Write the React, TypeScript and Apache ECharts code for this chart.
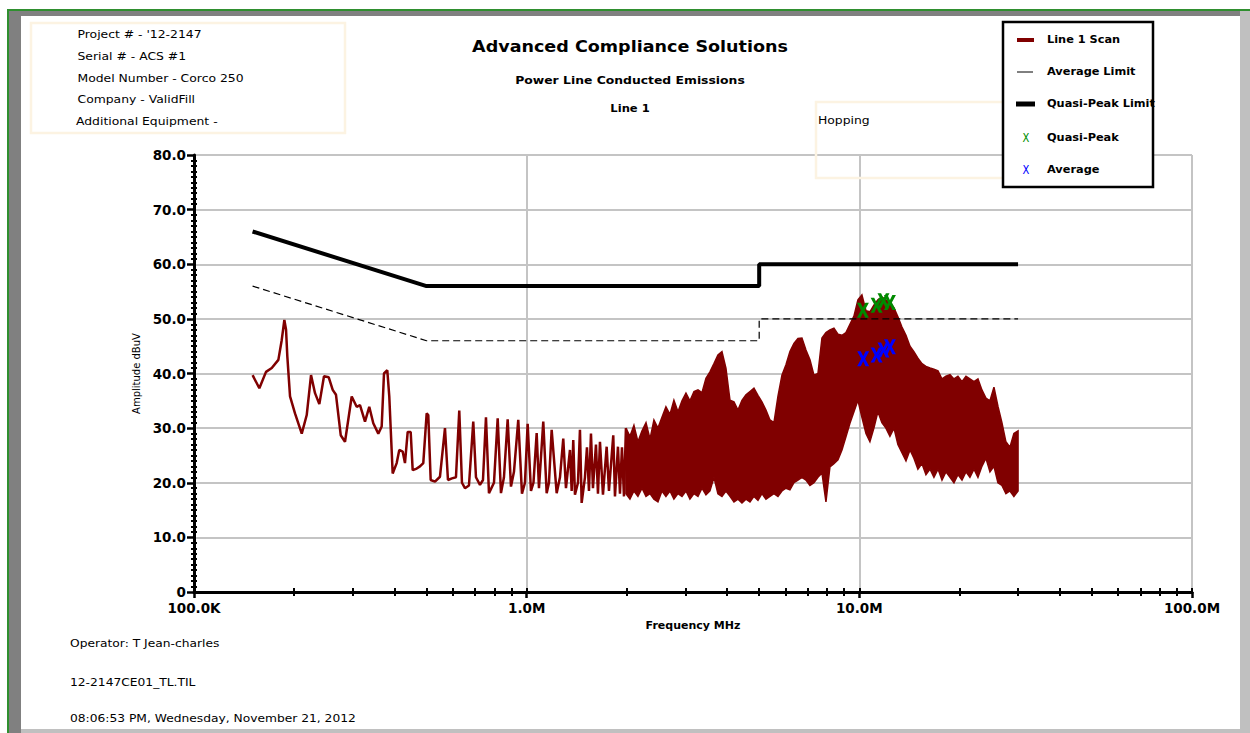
import React, { useEffect, useRef } from "react";
import * as echarts from "echarts";

// ---------------- data ----------------
const qpLimitFreq = [0.15, 0.5, 5, 5, 30];
const qpLimitLevel = [66, 56, 56, 60, 60];
const avgLimitFreq = [0.15, 0.5, 5, 5, 30];
const avgLimitLevel = [56, 46, 46, 50, 50];

// Line 1 scan, resolved part (0.15 - 2 MHz), MHz / dBuV
const scanFreq = [
  0.15, 0.1572, 0.1646, 0.1713, 0.1793, 0.1835, 0.1869, 0.1891, 0.1908, 0.1944,
  0.2012, 0.2108, 0.2182, 0.2248, 0.2311, 0.2381, 0.2459, 0.2541, 0.2612, 0.2672,
  0.2761, 0.2844, 0.2979, 0.3083, 0.3155, 0.3266, 0.3364, 0.3459, 0.3581, 0.3666,
  0.3725, 0.3811, 0.3864, 0.3956, 0.4067, 0.4141, 0.4239, 0.4307, 0.4389, 0.4481,
  0.4543, 0.4671, 0.4778, 0.4889, 0.5005, 0.5061, 0.5146, 0.5301, 0.5488, 0.5681,
  0.58, 0.5963, 0.613, 0.6272, 0.639, 0.6524, 0.6707, 0.691, 0.7041, 0.7238,
  0.739, 0.7545, 0.7704, 0.7975, 0.8182, 0.8371, 0.8546, 0.8768, 0.8971, 0.9159,
  0.9435, 0.968, 0.9883, 1.0069, 1.0302, 1.0482, 1.0717, 1.0889, 1.1218, 1.1485,
  1.1669, 1.1889, 1.2308, 1.2593, 1.2883, 1.3126, 1.3494, 1.3654, 1.3806, 1.3969,
  1.4262, 1.4461, 1.4632, 1.497, 1.5179, 1.5391, 1.5606, 1.5823, 1.6155, 1.638,
  1.6609, 1.6957, 1.7397, 1.7676, 1.821, 1.8426, 1.8812, 1.9074, 1.934, 1.961, 1.988,
];
const scanLevel = [
  39.7, 37.3, 40.3, 41.0, 42.5, 46.1, 49.8, 48.0, 43.1, 35.8,
  32.7, 29.0, 32.4, 39.7, 36.4, 34.4, 39.5, 39.3, 37.0, 36.1,
  28.7, 27.5, 35.8, 33.9, 34.2, 31.2, 33.9, 30.9, 29.0, 30.3,
  40.0, 40.6, 35.8, 21.7, 23.6, 26.0, 25.7, 23.6, 29.3, 29.3,
  22.3, 22.6, 23.0, 23.6, 32.7, 32.4, 20.5, 20.2, 21.1, 30.0,
  20.5, 20.8, 21.0, 33.2, 20.0, 19.0, 19.5, 31.2, 21.0, 19.6,
  20.5, 32.0, 18.1, 20.0, 31.8, 18.1, 21.0, 31.6, 19.3, 22.0,
  31.5, 18.0, 20.0, 30.8, 18.5, 20.0, 29.1, 19.0, 31.2, 18.1,
  20.0, 29.7, 18.1, 21.0, 28.1, 19.0, 26.0, 18.5, 27.8, 17.8,
  20.0, 29.7, 16.3, 21.0, 26.5, 18.5, 29.0, 19.0, 27.0, 18.0,
  27.5, 17.8, 26.6, 18.5, 28.7, 17.5, 26.6, 18.0, 26.5, 17.5, 30.0,
];

// Line 1 scan, dense part (2 - 30 MHz): upper and lower envelope of the trace
const bandFreq = [
  1.988, 2.044, 2.101, 2.16, 2.222, 2.284, 2.348, 2.413, 2.481, 2.551,
  2.622, 2.696, 2.771, 2.85, 2.93, 3.012, 3.096, 3.184, 3.273, 3.365,
  3.459, 3.556, 3.656, 3.758, 3.864, 3.972, 4.085, 4.199, 4.317, 4.438,
  4.563, 4.691, 4.822, 4.958, 5.096, 5.24, 5.387, 5.538, 5.693, 5.853,
  6.018, 6.186, 6.36, 6.539, 6.722, 6.911, 7.105, 7.304, 7.509, 7.72,
  7.937, 8.159, 8.388, 8.625, 8.867, 9.115, 9.37, 9.634, 9.904, 10.18,
  10.47, 10.76, 11.06, 11.37, 11.69, 12.02, 12.36, 12.71, 13.06, 13.43,
  13.81, 14.2, 14.59, 15.0, 15.43, 15.86, 16.31, 16.76, 17.24, 17.72,
  18.21, 18.73, 19.25, 19.79, 20.35, 20.92, 21.5, 22.11, 22.73, 23.36,
  24.02, 24.7, 25.39, 26.1, 26.83, 27.58, 28.36, 29.15, 30.0,
];
const bandUpper = [
  30.0, 28.5, 30.5, 27.5, 29.5, 31.0, 28.0, 31.5, 30.0, 32.0,
  33.9, 32.5, 35.1, 33.0, 35.0, 36.4, 35.0, 36.7, 37.0, 36.5,
  39.1, 40.3, 41.8, 43.4, 44.0, 41.0, 35.1, 34.8, 33.3, 35.1,
  36.1, 36.7, 37.3, 36.0, 34.8, 33.3, 31.5, 31.0, 35.8, 39.7,
  41.6, 44.0, 45.5, 46.4, 46.5, 44.3, 42.5, 39.7, 40.0, 46.5,
  47.5, 48.0, 48.3, 47.2, 47.0, 47.5, 49.0, 50.5, 53.5, 54.4,
  51.5, 51.3, 52.5, 53.5, 54.0, 53.5, 53.0, 52.0, 50.4, 48.5,
  47.0, 45.0, 44.0, 42.8, 41.8, 41.3, 41.0, 40.8, 40.5, 39.0,
  39.5, 39.8, 39.0, 39.5, 38.5, 39.5, 39.0, 38.5, 39.0, 37.0,
  35.5, 35.0, 37.5, 34.0, 31.0, 27.5, 26.5, 29.0, 29.5,
];
const bandLower = [
  18.0, 17.0, 18.5, 17.5, 19.0, 17.5, 18.0, 17.0, 16.5, 18.5,
  17.5, 18.5, 17.0, 18.0, 17.5, 18.5, 17.0, 18.0, 17.5, 19.0,
  17.8, 18.5, 21.0, 18.0, 17.5, 18.5, 17.5, 16.5, 17.0, 16.3,
  17.0, 16.5, 17.5, 16.8, 18.0, 17.0, 17.5, 18.0, 17.5, 18.5,
  19.0, 18.7, 20.0, 20.5, 21.0, 20.5, 19.5, 20.0, 21.0, 21.8,
  16.5, 22.9, 23.5, 24.2, 26.0, 28.4, 30.9, 33.0, 35.1, 32.0,
  29.0, 27.5, 30.0, 33.0, 31.0, 30.0, 28.5, 30.0, 27.0, 25.5,
  24.0, 26.0, 24.5, 22.5, 23.5, 21.5, 22.5, 21.0, 22.5, 20.5,
  22.0, 21.0, 20.0, 21.5, 20.5, 22.0, 21.0, 22.5, 21.0, 23.0,
  24.5, 22.0, 23.0, 20.0, 19.5, 18.0, 18.5, 17.5, 18.5,
];

const qpFreq = [10.25, 11.27, 11.82, 12.36];
const qpLevel = [51.6, 52.5, 53.3, 53.0];
const avgFreq = [10.27, 11.27, 11.82, 12.36];
const avgLevel = [42.7, 43.4, 44.3, 44.9];

const xDecadeValues = [0.1, 1, 10, 100];
const xDecadeLabels = ["100.0K", "1.0M", "10.0M", "100.0M"];
const xMinorMultipliers = [2, 3, 4, 5, 6, 7, 8, 9];

const titleText = "Advanced Compliance Solutions";
const subtitleText = "Power Line Conducted Emissions";
const lineText = "Line 1";
const noteText = "Hopping";
const infoLines = [
  "Project # - '12-2147",
  "Serial # - ACS #1",
  "Model Number - Corco 250",
  "Company - ValidFill",
  "Additional Equipment -",
];
const footerLines = [
  "Operator: T Jean-charles",
  "12-2147CE01_TL.TIL",
  "08:06:53 PM, Wednesday, November 21, 2012",
];
const legendNames = ["Line 1 Scan", "Average Limit", "Quasi-Peak Limit", "Quasi-Peak", "Average"];

// ---------------- styling ----------------
const FONT = '"DejaVu Sans", Verdana, sans-serif';
const SCAN = "#800000";
const GRID = "#c4c4c4";
const X_PATH =
  "path://M0,0 L3,0 L5,4.6 L7,0 L10,0 L6.6,7 L10,14 L7,14 L5,9.4 L3,14 L0,14 L3.4,7 Z";

function txt(t: string, x: number, y: number, o: any = {}) {
  const align = o.align || "left";
  return {
    type: "text",
    x,
    y,
    scaleX: o.sx || 1,
    z: o.z || 50,
    silent: true,
    style: {
      text: t,
      fill: o.color || "#000",
      fontSize: o.size || 11,
      fontWeight: o.bold ? "bold" : "normal",
      fontFamily: FONT,
      align,
      textAlign: align,
      verticalAlign: "middle",
      textVerticalAlign: "middle",
    },
  };
}

function rect(x: number, y: number, w: number, h: number, style: any, z = 1) {
  return { type: "rect", z, silent: true, shape: { x, y, width: w, height: h }, style };
}

function hline(x1: number, x2: number, y: number, color: string, w: number) {
  return {
    type: "line",
    z: 110,
    silent: true,
    shape: { x1, y1: y, x2, y2: y },
    style: { stroke: color, lineWidth: w },
  };
}

function buildOption() {
  const minorLogs: number[] = [];
  for (const d of xDecadeValues.slice(0, 3))
    for (const m of xMinorMultipliers) minorLogs.push(Math.log10(d * m));
  const decadeLogs = xDecadeValues.map((d) => Math.log10(d));

  const infoY = [34.5, 56.5, 78, 99.5, 121.5];
  const footY = [643.5, 682, 718.5];
  const legY = [40, 72, 104, 138, 170];

  const graphic: any[] = [
    // frame
    rect(7, 9, 1243, 2, { fill: "#2f8f2f" }),
    rect(7, 9, 2, 724, { fill: "#2f8f2f" }),
    rect(9, 11, 1231, 5, { fill: "#808080" }),
    rect(9, 11, 12, 722, { fill: "#808080" }),
    rect(1240, 11, 10, 722, { fill: "#c0c0c0" }),
    rect(21, 729, 1219, 4, { fill: "#c0c0c0" }),
    // info boxes
    rect(31, 23, 314, 110, { fill: "none", stroke: "#fcf3e2", lineWidth: 2.5 }),
    rect(816, 102, 200, 76, { fill: "none", stroke: "#fcf3e2", lineWidth: 2.5 }),
    // titles
    txt(titleText, 630, 47, { size: 15, bold: true, align: "center", sx: 1.17 }),
    txt(subtitleText, 630, 80.5, { size: 10.5, bold: true, align: "center", sx: 1.18 }),
    txt(lineText, 630, 109, { size: 10.5, bold: true, align: "center", sx: 1.1 }),
    txt(noteText, 818, 120, { size: 10.5, sx: 1.18 }),
    // legend
    rect(1003, 22, 150, 165, { fill: "#fff", stroke: "#000", lineWidth: 2.5 }, 100),
    hline(1017, 1034, legY[0], SCAN, 4),
    hline(1017, 1033, legY[1], "#000", 1),
    hline(1016, 1035, legY[2], "#000", 5),
    txt("X", 1026, legY[3], { size: 12.5, align: "center", sx: 0.8, color: "#009000", z: 110 }),
    txt("X", 1026, legY[4], { size: 12.5, align: "center", sx: 0.8, color: "#0000ff", z: 110 }),
  ];
  legendNames.forEach((n, i) =>
    graphic.push(txt(n, 1047, legY[i], { size: 10.5, bold: true, sx: 1.08, z: 110 }))
  );
  infoLines.forEach((t, i) => graphic.push(txt(t, i === 4 ? 76 : 77.5, infoY[i], { size: 10.5, sx: 1.18 })));
  footerLines.forEach((t, i) => graphic.push(txt(t, 70, footY[i], { size: 10.5, sx: 1.17 })));

  const axisLabelStyle = {
    color: "#000",
    fontFamily: FONT,
    fontWeight: "bold",
    fontSize: 13.5,
  };

  return {
    animation: false,
    backgroundColor: "#ffffff",
    graphic,
    grid: { left: 194, top: 155, right: 58, bottom: 141, containLabel: false, outerBoundsMode: "none" },
    xAxis: [
      {
        type: "log",
        logBase: 10,
        min: 0.1,
        max: 100,
        position: "bottom",
        axisLine: { show: true, onZero: false, lineStyle: { color: "#000", width: 3 } },
        axisTick: { show: true, length: 6, lineStyle: { color: "#000", width: 2.5 } },
        minorTick: { show: false },
        axisLabel: {
          ...axisLabelStyle,
          margin: 9,
          formatter: (v: number) => {
            const i = xDecadeValues.findIndex((d) => Math.abs(Math.log10(d) - Math.log10(v)) < 1e-6);
            return i >= 0 ? xDecadeLabels[i] : "";
          },
        },
        splitLine: { show: true, lineStyle: { color: GRID, width: 2 } },
        name: "Frequency MHz",
        nameLocation: "middle",
        nameGap: 28,
        nameTextStyle: { color: "#000", fontFamily: FONT, fontWeight: "bold", fontSize: 11 },
      },
      {
        type: "value",
        min: -1,
        max: 2,
        position: "bottom",
        axisLine: { show: false, onZero: false },
        axisLabel: { show: false },
        splitLine: { show: false },
        axisTick: {
          show: true,
          inside: true,
          length: 4,
          lineStyle: { color: "#000", width: 2 },
          customValues: minorLogs.concat(decadeLogs),
        },
      },
      {
        type: "value",
        min: -1,
        max: 2,
        position: "bottom",
        axisLine: { show: false, onZero: false },
        axisLabel: { show: false },
        splitLine: { show: false },
        axisTick: {
          show: true,
          inside: false,
          length: 4,
          lineStyle: { color: "#000", width: 2 },
          customValues: minorLogs,
        },
      },
    ],
    yAxis: [
      {
        type: "value",
        min: 0,
        max: 80,
        interval: 10,
        position: "left",
        axisLine: { show: true, onZero: false, lineStyle: { color: "#000", width: 3 } },
        axisTick: { show: true, length: 7, lineStyle: { color: "#000", width: 2.5 } },
        minorTick: { show: true, splitNumber: 10, length: 3, lineStyle: { color: "#000", width: 2 } },
        axisLabel: {
          ...axisLabelStyle,
          margin: 8,
          formatter: (v: number) => (v === 0 ? "0" : v.toFixed(1)),
        },
        splitLine: { show: true, lineStyle: { color: GRID, width: 2 } },
        name: "Amplitude dBuV",
        nameLocation: "middle",
        nameGap: 42,
        nameRotate: 90,
        nameTextStyle: { color: "#000", fontFamily: FONT, fontSize: 10 },
      },
      {
        type: "value",
        min: 0,
        max: 80,
        interval: 10,
        position: "left",
        axisLine: { show: false, onZero: false },
        axisTick: { show: false, inside: true },
        minorTick: { show: true, splitNumber: 10, length: 3, lineStyle: { color: "#000", width: 2 } },
        axisLabel: { show: false },
        splitLine: { show: false },
      },
    ],
    series: [
      {
        name: "Line 1 Scan band",
        type: "custom",
        xAxisIndex: 0,
        yAxisIndex: 0,
        z: 2,
        silent: true,
        data: bandFreq.map((f, i) => [f, bandUpper[i], bandLower[i]]),
        encode: { x: 0, y: [1, 2] },
        renderItem: (params: any, api: any) => {
          if (params.dataIndex !== 0) return null;
          const pts: number[][] = [];
          for (let i = 0; i < bandFreq.length; i++) pts.push(api.coord([bandFreq[i], bandUpper[i]]));
          for (let i = bandFreq.length - 1; i >= 0; i--) pts.push(api.coord([bandFreq[i], bandLower[i]]));
          return {
            type: "polygon",
            shape: { points: pts },
            style: { fill: SCAN, stroke: SCAN, lineWidth: 1.5, lineJoin: "miter" },
          };
        },
      },
      {
        name: "Line 1 Scan",
        type: "line",
        xAxisIndex: 0,
        yAxisIndex: 0,
        z: 2,
        symbol: "none",
        silent: true,
        data: scanFreq.map((f, i) => [f, scanLevel[i]]),
        lineStyle: { color: SCAN, width: 2.5 },
      },
      {
        name: "Average Limit",
        type: "line",
        z: 3,
        symbol: "none",
        silent: true,
        data: avgLimitFreq.map((f, i) => [f, avgLimitLevel[i]]),
        lineStyle: { color: "#000", width: 1.2, type: [7, 4] },
      },
      {
        name: "Quasi-Peak Limit",
        type: "line",
        z: 3,
        symbol: "none",
        silent: true,
        data: qpLimitFreq.map((f, i) => [f, qpLimitLevel[i]]),
        lineStyle: { color: "#000", width: 4 },
      },
      {
        name: "Quasi-Peak",
        type: "scatter",
        z: 5,
        silent: true,
        symbol: X_PATH,
        symbolSize: [12, 15],
        itemStyle: { color: "#008a00", opacity: 1 },
        data: qpFreq.map((f, i) => [f, qpLevel[i]]),
      },
      {
        name: "Average",
        type: "scatter",
        z: 5,
        silent: true,
        symbol: X_PATH,
        symbolSize: [12, 15],
        itemStyle: { color: "#0000ff", opacity: 1 },
        data: avgFreq.map((f, i) => [f, avgLevel[i]]),
      },
    ],
  };
}

export default function App() {
  const ref = useRef<HTMLDivElement>(null);
  useEffect(() => {
    if (!ref.current) return;
    const chart = echarts.init(ref.current, null, { renderer: "svg" });
    chart.setOption(buildOption() as any);
    return () => chart.dispose();
  }, []);
  return (
    <div
      ref={ref}
      style={{ position: "absolute", left: 0, top: 0, width: 1250, height: 733, background: "#fff" }}
    />
  );
}
